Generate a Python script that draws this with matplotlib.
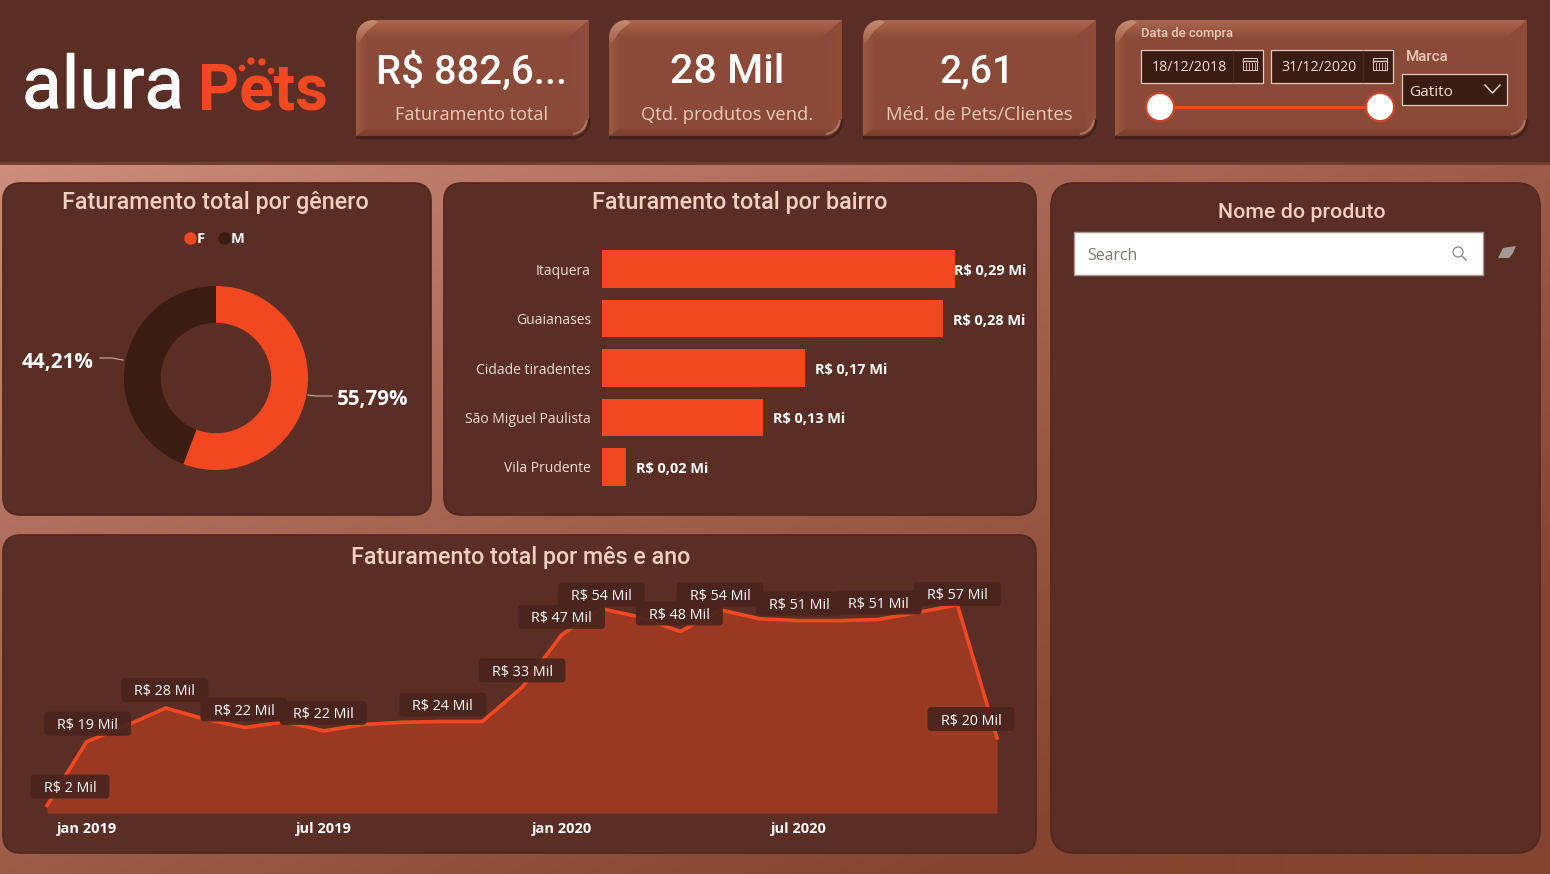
import numpy as np
import matplotlib
matplotlib.use("Agg")
import matplotlib.pyplot as plt
import matplotlib.patheffects as pe
from matplotlib.patches import FancyBboxPatch, Polygon, Circle, Rectangle
from matplotlib.lines import Line2D
from matplotlib.colors import to_rgb
from matplotlib.transforms import IdentityTransform

# ---------- data ----------
genero_labels = ["F", "M"]
genero_values = [55.79, 44.21]
genero_text = ["55,79%", "44,21%"]

bairros = ["Itaquera", "Guaianases", "Cidade tiradentes", "São Miguel Paulista", "Vila Prudente"]
bairro_values = [0.29, 0.28, 0.167, 0.132, 0.02]
bairro_text = ["R$ 0,29 Mi", "R$ 0,28 Mi", "R$ 0,17 Mi", "R$ 0,13 Mi", "R$ 0,02 Mi"]

meses_idx = list(range(25))
mes_values = [2, 19, 23.3, 28, 25, 22.8, 24.3, 21.9, 23.6, 24.2, 24.4, 24.4, 33.5, 47.5,
              54.5, 52.2, 48.4, 54.2, 51.8, 51.3, 51.3, 51.6, 53.5, 55.5, 20]
mes_tick_idx = [1, 7, 13, 19]
mes_tick_labels = ["jan 2019", "jul 2019", "jan 2020", "jul 2020"]
mes_label_idx = [0, 1, 3, 5, 7, 10, 12, 13, 14, 16, 17, 19, 21, 23, 24]
mes_label_text = ["R$ 2 Mil", "R$ 19 Mil", "R$ 28 Mil", "R$ 22 Mil", "R$ 22 Mil", "R$ 24 Mil",
                  "R$ 33 Mil", "R$ 47 Mil", "R$ 54 Mil", "R$ 48 Mil", "R$ 54 Mil",
                  "R$ 51 Mil", "R$ 51 Mil", "R$ 57 Mil", "R$ 20 Mil"]
# label offsets from their points, in pixels (layout)
mes_label_dx = [23, 1, -1, -1, -1, 0, 0, 0, 0, -1, 0, 0, 0, 0, -26]
mes_label_dy = [19, 18, 18, 18, 18, 17, 17, 18, 14, 18, 15, 17, 17, 11, 19]
mes_label_w = [79, 87, 87, 87, 87, 87, 87, 87, 87, 87, 87, 87, 87, 87, 87]

kpi_values = ["R$ 882,6...", "28 Mil", "2,61"]
kpi_labels = ["Faturamento total", "Qtd. produtos vend.", "Méd. de Pets/Clientes"]

# ---------- style ----------
W, H = 1550, 874
DARK = "#5b2e25"
ORANGE = "#f24822"
DEEP = "#3a1c13"
TITLE = "#f6cfc0"
SOFT = "#f3c9b8"
plt.rcParams["font.family"] = ["Open Sans", "DejaVu Sans"]

fig = plt.figure(figsize=(W / 100, H / 100), dpi=100)
bg = fig.add_axes([0, 0, 1, 1], zorder=0)
bg.set_xlim(0, W)
bg.set_ylim(H, 0)
bg.axis("off")
renderer = fig.canvas.get_renderer()


def txt(x, y, s, width=None, size=12, color="white", family="Open Sans", weight="normal",
        ha="center", va="center", ax=bg, z=20):
    dy = 2 if va == "center" else 0
    t = ax.text(x, y + dy, s, fontsize=size, color=color, family=[family, "DejaVu Sans"],
                fontweight=weight, ha=ha, va=va, zorder=z)
    if width:
        w = t.get_window_extent(renderer).width
        t.set_fontsize(size * width / w)
    return t


def grad_poly(verts, c0, c1, vertical=True, z=3):
    v = np.array(verts, float)
    x0, x1, y0, y1 = v[:, 0].min(), v[:, 0].max(), v[:, 1].min(), v[:, 1].max()
    a, b = np.array(to_rgb(c0)), np.array(to_rgb(c1))
    s = np.linspace(0, 1, 64)
    arr = a[None, :] * (1 - s[:, None]) + b[None, :] * s[:, None]
    arr = arr[:, None, :] if vertical else arr[None, :, :]
    im = bg.imshow(arr, extent=(x0, x1, y1, y0), aspect="auto", zorder=z, interpolation="bilinear")
    p = Polygon(v, closed=True, transform=bg.transData, facecolor="none", edgecolor="none")
    bg.add_patch(p)
    im.set_clip_path(p)
    bg.set_xlim(0, W)
    bg.set_ylim(H, 0)


# page gradient
yy, xx = np.mgrid[0:H:2, 0:W:4]
t = np.clip(0.62 * xx / W + 0.62 * (yy - 162) / (H - 162), 0, 1) ** 0.8
c_a, c_b = np.array(to_rgb("#cf8f7d")), np.array(to_rgb("#84442f"))
bg.imshow(c_a[None, None, :] * (1 - t[:, :, None]) + c_b[None, None, :] * t[:, :, None],
          extent=(0, W, H, 0), aspect="auto", zorder=0, interpolation="bilinear")
bg.set_xlim(0, W)
bg.set_ylim(H, 0)

# top band
bg.add_patch(Rectangle((0, 0), W, 162, fc=DARK, ec="none", zorder=1))
bg.plot([0, W], [163, 163], color="#6e3b2f", lw=2, zorder=1)


def panel(x0, y0, x1, y1, r=18):
    bg.add_patch(FancyBboxPatch((x0, y0), x1 - x0, y1 - y0, boxstyle=f"round,pad=0,rounding_size={r}",
                                fc=DARK, ec="#52291f", lw=1.3, zorder=2))


panel(3, 183, 431, 515)
panel(444, 183, 1036, 515)
panel(3, 535, 1036, 853)
panel(1051, 183, 1540, 853, r=24)


def arc(cx, cy, r, a0, a1, n=16):
    a = np.radians(np.linspace(a0, a1, n))
    return np.column_stack([cx + r * np.cos(a), cy + r * np.sin(a)])


def card(x0, y0, x1, y1):
    r = 17
    bg.add_patch(Polygon([(x0, y0 + 3), (x1, y0 + 3), (x1, y1 + 2.5), (x0, y1 + 2.5)], fc="#43211a", ec="none", zorder=2.5))
    il, it, ir, ib = x0 + 13, y0 + 19, x1 - 22, y1 - 9
    bg.add_patch(Rectangle((x0, y0), x1 - x0, y1 - y0, fc="#8a4a37", ec="none", zorder=3))
    parts = [
        ([(x0, y0), (x1, y0), (ir, it), (il, it)], "#ab6751", "#8b4b38", True),
        ([(x0, y0), (il, it), (il, ib), (x0, y1)], "#9c5843", "#8a4a37", False),
        ([(x1, y0), (x1, y1), (ir + 12, ib), (ir, it)], "#8a4a37", "#8f4d3a", False),
        ([(x0, y1), (il, ib), (ir + 12, ib), (x1, y1)], "#8a4a37", "#7a3e2d", True),
    ]
    for v, a, b, vert in parts:
        grad_poly(v, a, b, vert, z=3.2)
    grad_poly(np.vstack([arc(x0 + r, y0 + r, r, 180, 270), [(x0 + 22, y0 + 2), (x0 + 11, y0 + 11), (x0 + 2, y0 + 24)]]),
              "#c78a72", "#a0604b", True, z=3.3)
    tl = np.vstack([arc(x0 + r, y0 + r, r, 270, 180), [(x0 - 1, y0 + r), (x0 - 1, y0 - 1), (x0 + r, y0 - 1)]])
    bg.add_patch(Polygon(tl, fc=DARK, ec="none", zorder=3.6))
    br = np.vstack([arc(x1 - r, y1 - r, r, 90, 0), [(x1 + 1, y1 - r), (x1 + 1, y1 + 4), (x1 - r, y1 + 4)]])
    bg.add_patch(Polygon(br, fc=DARK, ec="none", zorder=3.6))
    sh = arc(x1 - r, y1 - r + 2, r, 90, 0)
    bg.plot(sh[:, 0], sh[:, 1], color="#43211a", lw=2, zorder=3.7)
    hl = arc(x1 - r - 1, y1 - r - 1, r - 1, 80, 10)
    bg.plot(hl[:, 0], hl[:, 1], color="#b97f69", lw=1.4, alpha=.8, zorder=3.7)


card_x = [(356, 589), (609, 842), (863, 1096)]
value_w = [191, 114, 75]
label_w = [153, 172, 186]
value_cx = [472, 727, 977]
label_cx = [472, 727, 979]
for (x0, x1), v, l, vw, lw_, vcx, lcx in zip(card_x, kpi_values, kpi_labels, value_w, label_w, value_cx, label_cx):
    card(x0, 20, x1, 136)
    txt(vcx, 70, v, width=vw, size=30, family="Roboto", weight="medium")
    txt(lcx, 113, l, width=lw_, size=13, color=SOFT)
card(1115, 20, 1527, 136)

# logo
logo = txt(22, 108, "alura", width=162, size=60, family="Roboto", weight="normal", ha="left", va="baseline")
logo.set_path_effects([pe.withStroke(linewidth=0.8, foreground="white")])
txt(198, 110, "Pets", width=130, size=50, color=ORANGE, family="Roboto", weight="bold", ha="left", va="baseline")
for cx, cy, rr in [(242, 68, 3.6), (251, 61, 4), (262, 62, 4), (271, 71, 3.6)]:
    bg.add_patch(Circle((cx, cy), rr, fc=ORANGE, ec=DARK, lw=0.5, zorder=21))

# date slicer
txt(1141, 32, "Data de compra", width=92, size=9, color=SOFT, family="Roboto", weight="medium", ha="left")
for (x0, x1), d in zip([(1141, 1263), (1271, 1393)], ["18/12/2018", "31/12/2020"]):
    bg.add_patch(Rectangle((x0, 50), x1 - x0, 33, fc=DEEP, ec="#e6cabd", lw=0.9, zorder=5))
    bg.plot([x1 - 30, x1 - 30], [51, 82], color="#4b281e", lw=1, zorder=6)
    txt(x0 + 48, 65.5, d, width=75, size=11, color="#f5dcd2", z=7)
    bg.add_patch(Rectangle((x1 - 20, 58), 14, 12, fc="none", ec="#e6cabd", lw=0.7, zorder=7))
    bg.plot([x1 - 20, x1 - 6], [61, 61], color="#e6cabd", lw=1, zorder=7)
    for dx in (-17, -14, -11, -8.5):
        bg.plot([x1 + dx] * 2, [63, 69], color="#e6cabd", lw=0.6, zorder=7)
bg.plot([1160, 1380], [107, 107], color=ORANGE, lw=2.1, zorder=6)
for cx in (1160, 1380):
    bg.add_patch(Circle((cx, 107), 15.5, fc="#d9472a", ec="none", alpha=0.75, zorder=6.5))
    bg.add_patch(Circle((cx, 107), 13, fc="white", ec="none", zorder=7))

txt(1406, 55, "Marca", width=43, size=11, color=SOFT, family="Roboto", weight="medium", ha="left")
bg.add_patch(Rectangle((1402, 74), 105, 31, fc=DEEP, ec="#e6cabd", lw=0.9, zorder=5))
txt(1409, 90.5, "Gatito", width=44, size=11, color="#f5dcd2", ha="left", z=7)
bg.plot([1485, 1492.5, 1500], [85, 93, 85], color="#f5dcd2", lw=1, zorder=7)

# product slicer
txt(1302, 211, "Nome do produto", width=168, size=15, color=TITLE, family="Roboto", weight="medium")
bg.add_patch(Rectangle((1074, 231.5), 409, 43.5, fc="white", ec="#a79a95", lw=1, zorder=5))
txt(1087, 253.5, "Search", width=50, size=12, color="#7e7672", ha="left", z=7)
bg.add_patch(Circle((1458, 252), 5, fc="none", ec="#8f8f8f", lw=1, zorder=7))
bg.plot([1462, 1466], [256, 260], color="#8f8f8f", lw=1.1, zorder=7)
bg.add_patch(Polygon([(1498, 258), (1503, 248), (1516, 246), (1513, 253), (1509, 258)], fc="#a39a96", ec="none", zorder=7))

# panel titles
txt(215, 200.5, "Faturamento total por gênero", width=307, size=16, color=TITLE, family="Roboto", weight="medium")
txt(740, 200.5, "Faturamento total por bairro", width=296, size=16, color=TITLE, family="Roboto", weight="medium")
txt(521, 555.5, "Faturamento total por mês e ano", width=341, size=16, color=TITLE, family="Roboto", weight="medium")


def px_axes(x0, y0, x1, y1, z=5):
    a = fig.add_axes([x0 / W, 1 - y1 / H, (x1 - x0) / W, (y1 - y0) / H], zorder=z)
    a.patch.set_alpha(0)
    for s in a.spines.values():
        s.set_visible(False)
    return a


# donut
ax_d = px_axes(124, 286, 308, 470)
wedges, _ = ax_d.pie(genero_values, colors=[ORANGE, DEEP], startangle=90, counterclock=False, radius=1,
                     wedgeprops=dict(width=0.40, linewidth=0))
ax_d.set_xlim(-1, 1)
ax_d.set_ylim(-1, 1)
txt(373, 397, genero_text[0], width=72, size=15, weight="bold")
txt(58, 360.5, genero_text[1], width=72, size=15, weight="bold")
bg.plot([308, 316, 332], [395, 396, 396], color="#b9a097", lw=0.9, zorder=8)
bg.plot([100, 112, 123], [358, 358, 360], color="#b9a097", lw=0.9, zorder=8)
handles = [Line2D([], [], marker="o", ls="none", ms=9, mfc=c, mec="none") for c in (ORANGE, DEEP)]
fig.legend(handles, genero_labels, loc="center", bbox_to_anchor=(213 / W, 1 - 239 / H), ncol=2, frameon=False,
           handletextpad=-0.1, columnspacing=0.75, labelcolor="white", borderpad=0, handlelength=1.1,
           prop=dict(weight="bold", size=10.5, family="Open Sans"))

# bars
ax_b = px_axes(602, 244.5, 1030, 491.5)
pos = np.arange(len(bairros))
ax_b.barh(pos, bairro_values, height=0.765, color=ORANGE)
ax_b.set_xlim(0, 0.29 * (1030 - 602) / 353)
ax_b.set_ylim(len(bairros) - 0.5, -0.5)
ax_b.set_yticks(pos, bairros, fontsize=10.0, color="#f5dcd2")
ax_b.set_xticks([])
ax_b.tick_params(axis="y", length=0, pad=8)
for i, (v, s) in enumerate(zip(bairro_values, bairro_text)):
    off = -1 if i == 0 else 10
    a = ax_b.annotate(s, (v, i), xytext=(off, -2), textcoords="offset pixels", ha="left", va="center",
                      color="white", fontweight="bold", fontsize=10.5, annotation_clip=False)
    a.set_fontsize(10.5 * 73 / a.get_window_extent(renderer).width)

# area / line
K = 3.75
ax_l = px_axes(47, 580, 997, 813)
ax_l.set_xlim(0, 24)
ax_l.set_ylim(0, (813 - 580) / K)
ax_l.fill_between(meses_idx, mes_values, 0, color="#9a3822", lw=0)
ax_l.plot(meses_idx, mes_values, color=ORANGE, lw=2.6, clip_on=False, solid_joinstyle="round")
ax_l.set_yticks([])
ax_l.set_xticks(mes_tick_idx, mes_tick_labels, fontweight="bold", color="white", fontsize=10.5)
ax_l.tick_params(axis="x", length=0, pad=6.5)
for i, s, dx, dy, w in zip(mes_label_idx, mes_label_text, mes_label_dx, mes_label_dy, mes_label_w):
    px, py = ax_l.transData.transform((meses_idx[i], mes_values[i]))
    cx, cy = px + dx, py + dy
    ax_l.add_patch(FancyBboxPatch((cx - w / 2, cy - 12), w, 24, boxstyle="round,pad=0,rounding_size=4",
                                  fc="#4a251d", ec="none", alpha=0.93, transform=IdentityTransform(),
                                  clip_on=False, zorder=6))
    ax_l.annotate(s, (meses_idx[i], mes_values[i]), xytext=(dx, dy - 2), textcoords="offset pixels",
                  ha="center", va="center", color="white", fontsize=10.3, zorder=7, annotation_clip=False)

fig.savefig("out.png", dpi=100)
